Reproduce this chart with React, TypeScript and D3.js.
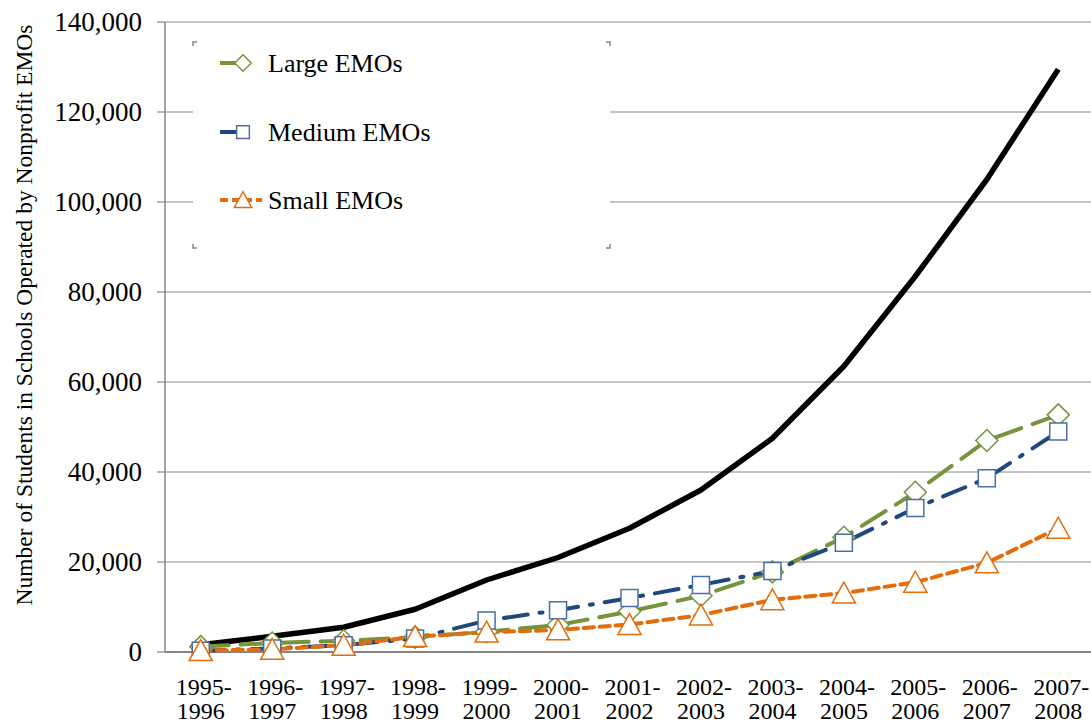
import React from "react";
import * as d3 from "d3";

const categories = [
  "1995-1996", "1996-1997", "1997-1998", "1998-1999", "1999-2000", "2000-2001", "2001-2002",
  "2002-2003", "2003-2004", "2004-2005", "2005-2006", "2006-2007", "2007-2008",
];
const totalValues = [1600, 3500, 5500, 9500, 16000, 21000, 27500, 36000, 47500, 63500, 83500, 105000, 129500];
const largeValues = [1200, 2000, 2500, 3300, 4500, 6000, 9000, 12500, 17800, 25500, 35500, 47000, 52700];
const mediumValues = [300, 800, 1500, 3000, 7000, 9300, 12000, 14900, 18000, 24300, 32000, 38600, 49000];
const smallValues = [300, 600, 1500, 3400, 4400, 4900, 6100, 8200, 11600, 13100, 15500, 19800, 27500];
const yTicks = [0, 20000, 40000, 60000, 80000, 100000, 120000, 140000];
const legendLabels = ["Large EMOs", "Medium EMOs", "Small EMOs"];

const W = 1091;
const H = 726;
const left = 165;
const right = 1094;
const top = 22;
const bottom = 652;
const FONT = "Liberation Serif, Tinos, Times New Roman, Times, DejaVu Serif, serif";

export default function App() {
  const x = d3.scaleBand<string>().domain(categories).range([left, right]);
  const cx = (c: string) => (x(c) as number) + x.bandwidth() / 2;
  const y = d3.scaleLinear().domain([0, 140000]).range([bottom, top]);
  const line = d3
    .line<number>()
    .x((_, i) => cx(categories[i]))
    .y((d) => y(d));
  const fmt = d3.format(",");

  const diamond = (px: number, py: number, r: number) =>
    `M${px},${py - r}L${px + r},${py}L${px},${py + r}L${px - r},${py}Z`;
  const square = (px: number, py: number, r: number) =>
    `M${px - r},${py - r}H${px + r}V${py + r}H${px - r}Z`;
  const triangle = (px: number, py: number, r: number) =>
    `M${px},${py - r}L${px + r * 1.05},${py + r * 0.9}L${px - r * 1.05},${py + r * 0.9}Z`;

  const series = [
    { vals: largeValues, color: "#77933C", mcolor: "#77933C", dash: "28,12", shape: diamond, r: 11 },
    { vals: mediumValues, color: "#1F497D", mcolor: "#4A6FA5", dash: "24,12,3,12", shape: square, r: 8.5 },
    { vals: smallValues, color: "#E46C0A", mcolor: "#E46C0A", dash: "10,6", shape: triangle, r: 11 },
  ];

  const legX = 193;
  const legY = 42;
  const legW = 417;
  const legH = 206;
  const legRows = [63, 132, 200];

  return (
    <svg width={W} height={H} style={{ display: "block", position: "absolute", left: 0, top: 0 }}>
      <rect x={0} y={0} width={W} height={H} fill="#fff" />
      {yTicks.map((t) => (
        <line key={t} x1={left} x2={right} y1={y(t)} y2={y(t)} stroke={t === 0 ? "#868686" : "#8c8c8c"} strokeWidth={t === 0 ? 2 : 1.2} />
      ))}
      <line x1={left} x2={left} y1={top} y2={bottom} stroke="#868686" strokeWidth={1.5} />
      {yTicks.map((t) => (
        <line key={"tk" + t} x1={left - 8} x2={left} y1={y(t)} y2={y(t)} stroke="#868686" strokeWidth={1.2} />
      ))}
      {yTicks.map((t) => (
        <text key={"tl" + t} x={142} y={y(t)} dy="0.35em" textAnchor="end" fontFamily={FONT} fontSize={27} fill="#000">
          {fmt(t)}
        </text>
      ))}
      {categories.map((c) => {
        const [a, b] = c.split("-");
        return (
          <text key={c} textAnchor="middle" fontFamily={FONT} fontSize={24} fill="#000">
            <tspan x={cx(c) + 3} y={695}>{a + "-"}</tspan>
            <tspan x={cx(c)} y={719}>{b}</tspan>
          </text>
        );
      })}
      <text
        transform={`translate(32,315) rotate(-90)`}
        textAnchor="middle"
        fontFamily={FONT}
        fontSize={23.5}
        fill="#000"
      >
        Number of  Students in Schools Operated by Nonprofit EMOs
      </text>
      <path d={line(totalValues) || ""} fill="none" stroke="#000" strokeWidth={5.5} strokeLinejoin="round" />
      {series.map((s, i) => (
        <path key={"l" + i} d={line(s.vals) || ""} fill="none" stroke={s.color} strokeWidth={4} strokeDasharray={s.dash} strokeLinecap="round" />
      ))}
      {series.map((s, i) =>
        s.vals.map((v, j) => (
          <path key={"m" + i + "-" + j} d={s.shape(cx(categories[j]), y(v), s.r)} fill="#fff" stroke={s.mcolor} strokeWidth={1.5} />
        ))
      )}
      <rect x={legX} y={legY} width={legW} height={legH} fill="#fff" />
      {[
        [legX, legY, 1, 1],
        [legX + legW, legY, -1, 1],
        [legX, legY + legH, 1, -1],
        [legX + legW, legY + legH, -1, -1],
      ].map(([px, py, sx, sy], k) => (
        <path key={"c" + k} d={`M${px},${py + sy * 4}V${py}H${px + sx * 4}`} fill="none" stroke="#888" strokeWidth={1.5} />
      ))}
      {series.map((s, i) => (
        <g key={"lg" + i}>
          <line x1={220} x2={262} y1={legRows[i]} y2={legRows[i]} stroke={s.color} strokeWidth={4} strokeDasharray={i === 0 ? "16,30" : i === 1 ? "16,26,2,40" : "8,4"} />
          <path d={s.shape(243, legRows[i], s.r * 0.75)} fill="#fff" stroke={s.mcolor} strokeWidth={1.5} />
          <text x={268} y={legRows[i]} dy="0.35em" fontFamily={FONT} fontSize={26} fill="#000">
            {legendLabels[i]}
          </text>
        </g>
      ))}
    </svg>
  );
}
